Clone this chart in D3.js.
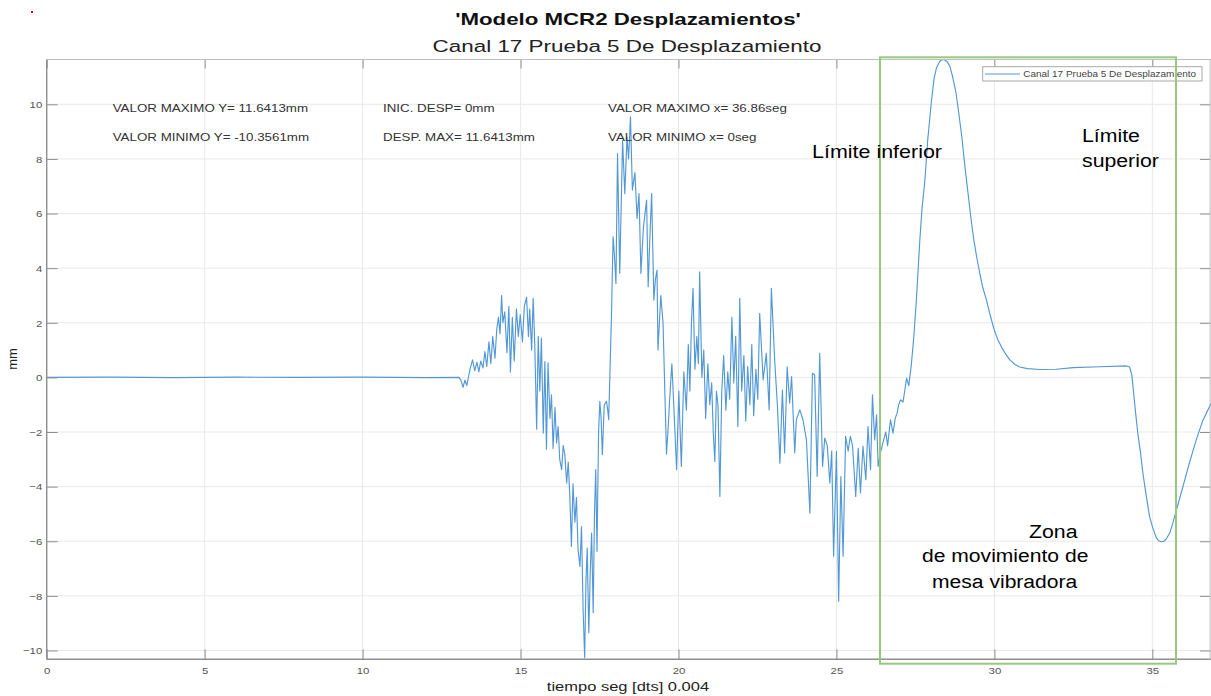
<!DOCTYPE html>
<html>
<head>
<meta charset="utf-8">
<script src="https://cdn.jsdelivr.net/npm/d3@7"></script>
<style>
  body { margin: 0; background: #fff; }
  svg { display: block; font-family: Arial, "Liberation Sans", sans-serif; }
</style>
</head>
<body>
<div id="rootDiv"></div>
<script>
const width = 1211
const height = 696

// señal: tiempo (seg) y desplazamiento (mm)
const tiempo = [
  0, 2.0, 4.0, 6.0, 8.0, 10.0, 12.0, 13.05, 13.11, 13.18, 13.24, 13.30, 13.40, 13.48, 13.55, 13.62, 13.68, 13.74, 13.81, 13.87,
  13.93, 14.00, 14.06, 14.12, 14.19, 14.25, 14.30, 14.35, 14.40, 14.44, 14.50, 14.57, 14.63, 14.68, 14.74, 14.80, 14.87, 14.93, 14.99, 15.06,
  15.12, 15.19, 15.25, 15.29, 15.35, 15.40, 15.45, 15.51, 15.56, 15.61, 15.66, 15.72, 15.77, 15.82, 15.87, 15.93, 15.98, 16.03, 16.09, 16.14,
  16.19, 16.24, 16.30, 16.35, 16.40, 16.46, 16.51, 16.56, 16.61, 16.66, 16.72, 16.77, 16.82, 16.88, 16.93, 16.98, 17.03, 17.07, 17.11, 17.16,
  17.21, 17.25, 17.30, 17.34, 17.38, 17.42, 17.47, 17.51, 17.55, 17.59, 17.65, 17.72, 17.76, 17.79, 17.88, 17.93, 17.97, 18.02, 18.07, 18.14,
  18.23, 18.30, 18.37, 18.42, 18.48, 18.54, 18.62, 18.69, 18.75, 18.81, 18.89, 18.99, 19.04, 19.09, 19.15, 19.22, 19.27, 19.32, 19.35, 19.44,
  19.51, 19.62, 19.67, 19.72, 19.79, 19.85, 19.94, 20.01, 20.09, 20.17, 20.25, 20.31, 20.36, 20.41, 20.46, 20.52, 20.58, 20.63, 20.67, 20.74,
  20.80, 20.86, 20.93, 20.99, 21.05, 21.10, 21.15, 21.20, 21.25, 21.31, 21.37, 21.43, 21.50, 21.56, 21.62, 21.69, 21.75, 21.81, 21.88, 21.94,
  22.00, 22.07, 22.13, 22.19, 22.26, 22.32, 22.38, 22.45, 22.51, 22.57, 22.68, 22.78, 22.87, 22.94, 23.05, 23.13, 23.21, 23.29, 23.36, 23.44,
  23.52, 23.58, 23.68, 23.73, 23.84, 23.94, 24.05, 24.16, 24.24, 24.31, 24.39, 24.47, 24.56, 24.63, 24.71, 24.79, 24.85, 24.91, 25.00, 25.07,
  25.14, 25.21, 25.29, 25.37, 25.44, 25.51, 25.61, 25.69, 25.76, 25.84, 25.93, 26.00, 26.08, 26.14, 26.21, 26.27, 26.32, 26.39, 26.47, 26.56,
  26.62, 26.71, 26.79, 26.86, 26.92, 26.97, 27.03, 27.11, 27.22, 27.29,
  27.37, 27.45, 27.53, 27.64, 27.71, 27.80, 27.89, 28.01, 28.09, 28.17, 28.27, 28.33, 28.40, 28.49, 28.59, 28.68, 28.78, 28.87, 28.97, 29.06,
  29.16, 29.25, 29.34, 29.44, 29.54, 29.63, 29.75, 29.85, 29.98, 30.10, 30.23, 30.36, 30.48, 30.64, 30.80, 31.05, 31.43, 31.96, 32.49, 33.33,
  34.18, 34.28, 34.35, 34.41, 34.47, 34.54, 34.63, 34.70, 34.79, 34.91, 35.01, 35.13, 35.20, 35.28, 35.36, 35.44, 35.55, 35.65, 35.80, 35.97,
  36.18, 36.39, 36.59, 36.86
]
const desplazamiento = [
  0, 0.01, -0.01, 0.01, 0, 0.01, -0.01, 0, -0.1, -0.36, -0.1, -0.3, 0.3, 0.64, 0.25, 0.55, 0.2, 0.6, 0.35, 0.95,
  0.4, 1.3, 0.5, 1.5, 0.7, 1.8, 2.2, 1.6, 3.0, 2.0, 2.4, 0.9, 2.6, 0.2, 2.2, 0.6, 2.5, 1.5, 2.3, 1.3,
  2.6, 2.94, 1.5, 2.5, 1.0, 2.9, 1.2, -1.9, 1.5, -0.5, 1.44, -2.04, 0.58, -2.63, 0.53, -1.5, -0.64, -2.6, -1.1, -2.4,
  -1.8, -3.0, -3.38, -2.5, -2.8, -3.87, -3.1, -4.36, -6.19, -3.9, -5.3, -4.4, -6.3, -6.92, -5.46, -8.5, -10.27, -7.5, -6.25, -9.35,
  -7.0, -5.7, -8.62, -5.0, -3.38, -6.37, -2.0, -0.88, -1.5, -2.83, -1.0, -0.88, -1.2, -1.55, 2.35, 5.15, 4.5, 3.44, 8.2, 3.81,
  8.68, 6.73, 8.8, 8.0, 9.54, 6.86, 7.5, 5.82, 6.73, 3.81, 5.5, 6.49, 3.32, 5.0, 6.73, 2.83, 3.6, 3.93, 1.0, 3.0,
  2.0, -2.8, -1.9, -0.8, 0.5, -1.0, -3.38, -0.5, -3.26, 0.2, -1.2, 1.2, -0.5, 2.0, 3.26, 0.3, 1.5, 0.5, 3.87, 0.0,
  1.0, -1.5, 0.5, -1.0, -0.2, -2.0, -3.08, -0.5, -1.0, -4.36, -0.5, 0.8, -1.2, 0.2, -0.8, 2.2, -0.2, 1.5, -1.8, 2.9,
  -0.5, 0.8, -1.6, 0.4, -1.0, 1.2, -1.4, 0.3, -0.8, 2.35, -0.09, 0.88, -1.19, 3.26, 0.52, -1.0, -3.14, -0.46, -2.77, 0.39,
  -0.94, 0.03, -2.77, -1.55, -1.19, -1.55, -2.29, -4.97, 0.15, 0.09, -3.63, 0.88, -3.26, -2.22, -2.5, -3.87, -2.7, -6.55, -2.71, -8.2,
  -3.63, -6.55, -2.16, -2.7, -2.16, -2.5, -4.36, -2.6, -4.23, -2.52, -3.75, -1.8, -3.38, -0.64, -2.29, -1.37, -3.26, -2.77, -2.4, -2.0,
  -2.5, -1.55, -2.04, -1.5, -1.31, -1.0, -0.82, -0.9, -0.03, -0.3,
  0.46, 1.5, 2.83, 5.03, 6.2, 7.22, 8.7, 10.15, 10.95, 11.35, 11.57, 11.63, 11.6413, 11.58, 11.4, 11.0, 10.45, 9.7, 8.8, 7.8,
  6.8, 5.9, 5.1, 4.4, 3.8, 3.3, 2.83, 2.35, 1.8, 1.4, 1.1, 0.85, 0.65, 0.48, 0.38, 0.32, 0.29, 0.30, 0.36, 0.39,
  0.42, 0.38, 0.1, -0.6, -1.3, -2.04, -2.8, -3.5, -4.2, -5.09, -5.5, -5.88, -5.98, -6.02, -6.0, -5.92, -5.7, -5.33, -4.7, -3.99,
  -3.1, -2.29, -1.6, -0.95
]

const xTicks = [0, 5, 10, 15, 20, 25, 30, 35]
const yTicks = [-10, -8, -6, -4, -2, 0, 2, 4, 6, 8, 10]
const xDomain = [0, 36.86]
const yDomain = [-10.3561, 11.6413]

const titulo = "'Modelo MCR2 Desplazamientos'"
const subtitulo = "Canal 17 Prueba 5 De Desplazamiento"
const etiquetaX = "tiempo seg [dts] 0.004"
const etiquetaY = "mm"
const leyenda = "Canal 17 Prueba 5 De Desplazamiento"
const infoCol1 = ["VALOR MAXIMO Y= 11.6413mm", "VALOR MINIMO Y= -10.3561mm"]
const infoCol2 = ["INIC. DESP= 0mm", "DESP. MAX= 11.6413mm"]
const infoCol3 = ["VALOR MAXIMO x= 36.86seg", "VALOR MINIMO x= 0seg"]

const lineBlue = "#5298d6"
const axisGray = "#8e8e8e"
const labelGray = "#555"

const margin = { left: 46.7, right: 1211.1, top: 59.5, bottom: 660.2 }

const svg = d3.select(document.getElementById("rootDiv"))
    .append("svg")
    .attr("width", width)
    .attr("height", height)

const x = d3.scaleLinear().domain(xDomain).range([margin.left, margin.right])
const y = d3.scaleLinear().domain(yDomain).range([margin.bottom, margin.top])

// texto estirado horizontalmente (la figura original esta ensanchada)
function stretchText(g, px, py, str, size, sx, anchor) {
    return g.append("text")
        .attr("transform", `translate(${px},${py}) scale(${sx},1)`)
        .attr("font-size", size)
        .attr("text-anchor", anchor || "start")
        .text(str)
}

// punto rojo arriba a la izquierda
svg.append("rect").attr("x", 31).attr("y", 11).attr("width", 2).attr("height", 2).attr("fill", "#d00000")

// grid
const grid = svg.append("g")
grid.selectAll(".gx").data(xTicks).enter().append("line")
    .attr("x1", d => x(d)).attr("x2", d => x(d))
    .attr("y1", margin.top).attr("y2", margin.bottom)
    .attr("stroke", "#e9e9e9")
grid.selectAll(".gy").data(yTicks).enter().append("line")
    .attr("x1", margin.left).attr("x2", margin.right)
    .attr("y1", d => y(d)).attr("y2", d => y(d))
    .attr("stroke", "#e9e9e9")

// señal
svg.append("clipPath").attr("id", "plotClip")
    .append("rect")
    .attr("x", margin.left).attr("y", margin.top - 3)
    .attr("width", margin.right - margin.left).attr("height", margin.bottom - margin.top + 3)

const lineGenerator = d3.line()
    .x((d, i) => x(tiempo[i]))
    .y(d => y(d))

svg.append("path")
    .attr("clip-path", "url(#plotClip)")
    .attr("d", lineGenerator(desplazamiento))
    .attr("fill", "none")
    .attr("stroke", lineBlue)
    .attr("stroke-width", 1.15)
    .attr("stroke-linejoin", "round")

// ejes (marcas hacia adentro, estilo MATLAB)
const xAxis = svg.append("g")
    .attr("transform", `translate(0,${margin.bottom - 0.9})`)
    .call(d3.axisBottom(x).tickValues(xTicks).tickSizeInner(-10).tickSizeOuter(0).tickFormat(d3.format("d")))
xAxis.select(".domain").remove()
xAxis.selectAll("line").attr("stroke", axisGray)
xAxis.selectAll("text")
    .attr("y", 0).attr("dy", 0)
    .attr("transform", "translate(0,14.7) scale(1.2,1)")
    .attr("font-size", 9.5)
    .attr("font-family", "Arial, 'Liberation Sans', sans-serif")
    .attr("fill", labelGray)

const xTop = svg.append("g")
    .attr("transform", `translate(0,${margin.top})`)
    .call(d3.axisTop(x).tickValues(xTicks).tickSizeInner(-9).tickSizeOuter(0).tickFormat(""))
xTop.select(".domain").remove()
xTop.selectAll("line").attr("stroke", axisGray)

const yAxis = svg.append("g")
    .attr("transform", `translate(${margin.left},0)`)
    .call(d3.axisLeft(y).tickValues(yTicks).tickSizeInner(-11).tickSizeOuter(0).tickFormat(d3.format("d")))
yAxis.select(".domain").remove()
yAxis.selectAll("line").attr("stroke", axisGray)
yAxis.selectAll("text")
    .attr("x", 0).attr("dy", "0.34em")
    .attr("transform", "translate(-4.4,0) scale(1.2,1)")
    .attr("font-size", 9.5)
    .attr("font-family", "Arial, 'Liberation Sans', sans-serif")
    .attr("fill", labelGray)

const yRight = svg.append("g")
    .attr("transform", `translate(${margin.right - 1},0)`)
    .call(d3.axisRight(y).tickValues(yTicks).tickSizeInner(-10).tickSizeOuter(0).tickFormat(""))
yRight.select(".domain").remove()
yRight.selectAll("line").attr("stroke", axisGray)

// marco
svg.append("line").attr("x1", margin.left).attr("x2", margin.left)
    .attr("y1", margin.top).attr("y2", margin.bottom - 0.9)
    .attr("stroke", axisGray).attr("stroke-width", 1.4)
svg.append("line").attr("x1", margin.left).attr("x2", margin.right)
    .attr("y1", margin.bottom - 0.9).attr("y2", margin.bottom - 0.9)
    .attr("stroke", axisGray).attr("stroke-width", 1.4)
svg.append("line").attr("x1", margin.left).attr("x2", margin.right)
    .attr("y1", margin.top).attr("y2", margin.top)
    .attr("stroke", "#bdbdbd").attr("stroke-width", 1)
svg.append("line").attr("x1", margin.right - 1).attr("x2", margin.right - 1)
    .attr("y1", margin.top).attr("y2", margin.bottom)
    .attr("stroke", "#bdbdbd").attr("stroke-width", 1)

// titulos
const textos = svg.append("g").attr("fill", "#222")
stretchText(textos, 628, 25, titulo, 17, 1.31, "middle").attr("font-weight", "bold").attr("fill", "#111")
stretchText(textos, 627, 52, subtitulo, 17, 1.32, "middle")
stretchText(textos, 628, 691, etiquetaX, 13, 1.27, "middle")
textos.append("text")
    .attr("transform", "translate(17,359) rotate(-90)")
    .attr("font-size", 13)
    .attr("text-anchor", "middle")
    .text(etiquetaY)

// informacion dentro del grafico
const info = svg.append("g").attr("fill", "#333")
infoCol1.forEach((s, i) => stretchText(info, 112.7, 112.3 + i * 29, s, 11, 1.215))
infoCol2.forEach((s, i) => stretchText(info, 383, 112.3 + i * 29, s, 11, 1.215))
infoCol3.forEach((s, i) => stretchText(info, 608, 112.3 + i * 29, s, 11, 1.215))

// leyenda
const legend = svg.append("g")
legend.append("rect")
    .attr("x", 982.7).attr("y", 66.7).attr("width", 219.3).attr("height", 14.3)
    .attr("fill", "#fff").attr("stroke", "#a8a8a8").attr("stroke-width", 1)
legend.append("line")
    .attr("x1", 985).attr("x2", 1020).attr("y1", 74).attr("y2", 74)
    .attr("stroke", lineBlue).attr("stroke-width", 1)
stretchText(legend, 1023.3, 77.2, leyenda, 8.6, 1.16).attr("fill", "#444")

// zona de movimiento de mesa vibradora
svg.append("rect")
    .attr("x", 880).attr("y", 57.3).attr("width", 296).attr("height", 606.4)
    .attr("fill", "none").attr("stroke", "#96c97e").attr("stroke-width", 2)

const notas = svg.append("g").attr("fill", "#000")
stretchText(notas, 812, 157.7, "Límite inferior", 19, 1.13)
stretchText(notas, 1082, 142.3, "Límite", 19, 1.12)
stretchText(notas, 1082, 167.3, "superior", 19, 1.12)
stretchText(notas, 1029, 537.7, "Zona", 19, 1.12)
stretchText(notas, 922, 561.7, "de movimiento de", 19, 1.11)
stretchText(notas, 932, 588, "mesa vibradora", 19, 1.11)
</script>
</body>
</html>
